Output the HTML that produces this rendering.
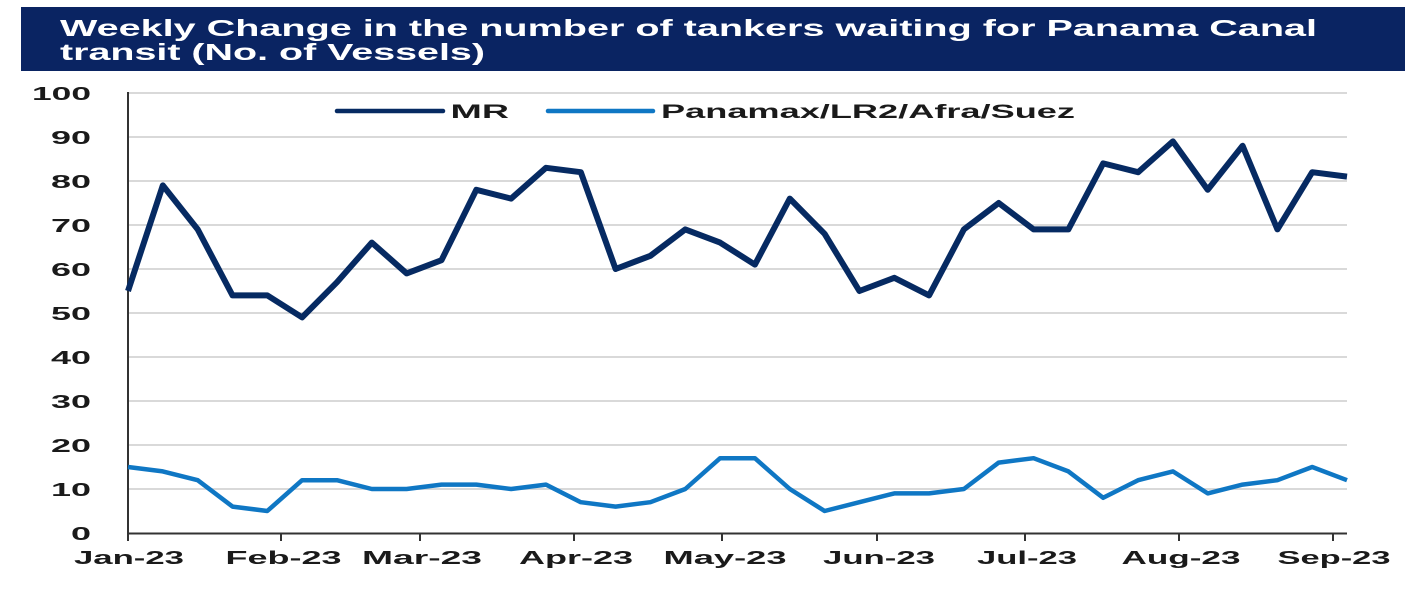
<!DOCTYPE html>
<html>
<head>
<meta charset="utf-8">
<style>
html,body{margin:0;padding:0;background:#fff;}
svg{display:block;}
text{font-family:"Liberation Sans",Arial,sans-serif;font-weight:bold;}
</style>
</head>
<body>
<svg width="1420" height="600" viewBox="0 0 1420 600" xmlns="http://www.w3.org/2000/svg">
  <rect x="0" y="0" width="1420" height="600" fill="#ffffff"/>
  <!-- Title banner -->
  <rect x="21" y="7" width="1384" height="64" fill="#0a2462"/>
  <text x="60" y="36" font-size="23" fill="#ffffff" textLength="1257" lengthAdjust="spacingAndGlyphs">Weekly Change in the number of tankers waiting for Panama Canal</text>
  <text x="60" y="60" font-size="23" fill="#ffffff" textLength="425" lengthAdjust="spacingAndGlyphs">transit (No. of Vessels)</text>

  <!-- gridlines -->
  <g stroke="#d9d9d9" stroke-width="2">
    <line x1="128" y1="93" x2="1347" y2="93"/>
    <line x1="128" y1="137" x2="1347" y2="137"/>
    <line x1="128" y1="181" x2="1347" y2="181"/>
    <line x1="128" y1="225" x2="1347" y2="225"/>
    <line x1="128" y1="269" x2="1347" y2="269"/>
    <line x1="128" y1="313" x2="1347" y2="313"/>
    <line x1="128" y1="357" x2="1347" y2="357"/>
    <line x1="128" y1="401" x2="1347" y2="401"/>
    <line x1="128" y1="445" x2="1347" y2="445"/>
    <line x1="128" y1="489" x2="1347" y2="489"/>
  </g>

  <!-- axes -->
  <line x1="128" y1="92" x2="128" y2="534" stroke="#333333" stroke-width="2"/>
  <line x1="127" y1="533.5" x2="1347" y2="533.5" stroke="#333333" stroke-width="2"/>
  <g stroke="#333333" stroke-width="2">
    <line x1="128" y1="533" x2="128" y2="541"/>
    <line x1="281" y1="533" x2="281" y2="541"/>
    <line x1="420" y1="533" x2="420" y2="541"/>
    <line x1="574" y1="533" x2="574" y2="541"/>
    <line x1="722" y1="533" x2="722" y2="541"/>
    <line x1="877" y1="533" x2="877" y2="541"/>
    <line x1="1025" y1="533" x2="1025" y2="541"/>
    <line x1="1179" y1="533" x2="1179" y2="541"/>
    <line x1="1333" y1="533" x2="1333" y2="541"/>
  </g>

  <!-- y labels -->
  <g font-size="18" fill="#1a1a1a" text-anchor="end">
    <text x="91" y="100" textLength="59" lengthAdjust="spacingAndGlyphs">100</text>
    <text x="91" y="144" textLength="40" lengthAdjust="spacingAndGlyphs">90</text>
    <text x="91" y="188" textLength="40" lengthAdjust="spacingAndGlyphs">80</text>
    <text x="91" y="232" textLength="40" lengthAdjust="spacingAndGlyphs">70</text>
    <text x="91" y="276" textLength="40" lengthAdjust="spacingAndGlyphs">60</text>
    <text x="91" y="320" textLength="40" lengthAdjust="spacingAndGlyphs">50</text>
    <text x="91" y="364" textLength="40" lengthAdjust="spacingAndGlyphs">40</text>
    <text x="91" y="408" textLength="40" lengthAdjust="spacingAndGlyphs">30</text>
    <text x="91" y="452" textLength="40" lengthAdjust="spacingAndGlyphs">20</text>
    <text x="91" y="496" textLength="40" lengthAdjust="spacingAndGlyphs">10</text>
    <text x="91" y="540" textLength="20" lengthAdjust="spacingAndGlyphs">0</text>
  </g>

  <!-- x labels -->
  <g font-size="18" fill="#1a1a1a" text-anchor="middle">
    <text x="129" y="564" textLength="110" lengthAdjust="spacingAndGlyphs">Jan-23</text>
    <text x="283.5" y="564" textLength="116" lengthAdjust="spacingAndGlyphs">Feb-23</text>
    <text x="422" y="564" textLength="120" lengthAdjust="spacingAndGlyphs">Mar-23</text>
    <text x="576" y="564" textLength="114" lengthAdjust="spacingAndGlyphs">Apr-23</text>
    <text x="725" y="564" textLength="123" lengthAdjust="spacingAndGlyphs">May-23</text>
    <text x="879" y="564" textLength="112" lengthAdjust="spacingAndGlyphs">Jun-23</text>
    <text x="1027" y="564" textLength="100" lengthAdjust="spacingAndGlyphs">Jul-23</text>
    <text x="1181" y="564" textLength="119" lengthAdjust="spacingAndGlyphs">Aug-23</text>
    <text x="1334" y="564" textLength="113" lengthAdjust="spacingAndGlyphs">Sep-23</text>
  </g>

  <!-- legend -->
  <line x1="337" y1="111" x2="443" y2="111" stroke="#062a62" stroke-width="4.5" stroke-linecap="round"/>
  <text x="450.5" y="118" font-size="19" fill="#1a1a1a" textLength="58.5" lengthAdjust="spacingAndGlyphs">MR</text>
  <line x1="548" y1="111" x2="653" y2="111" stroke="#0f77c4" stroke-width="4.5" stroke-linecap="round"/>
  <text x="661" y="118" font-size="19" fill="#1a1a1a" textLength="414" lengthAdjust="spacingAndGlyphs">Panamax/LR2/Afra/Suez</text>

  <!-- Panamax series -->
  <polyline fill="none" stroke="#0f77c4" stroke-width="4.5" stroke-linejoin="round" stroke-linecap="butt"
    points="128.0,467.0 162.8,471.4 197.7,480.2 232.5,506.6 267.3,511.0 302.1,480.2 337.0,480.2 371.8,489.0 406.6,489.0 441.5,484.6 476.3,484.6 511.1,489.0 546.0,484.6 580.8,502.2 615.6,506.6 650.4,502.2 685.3,489.0 720.1,458.2 754.9,458.2 789.8,489.0 824.6,511.0 859.4,502.2 894.3,493.4 929.1,493.4 963.9,489.0 998.7,462.6 1033.6,458.2 1068.4,471.4 1103.2,497.8 1138.1,480.2 1172.9,471.4 1207.7,493.4 1242.6,484.6 1277.4,480.2 1312.2,467.0 1347.0,480.2"/>

  <!-- MR series -->
  <polyline fill="none" stroke="#062a62" stroke-width="6" stroke-linejoin="round" stroke-linecap="butt"
    points="128.0,291.0 162.8,185.4 197.7,229.4 232.5,295.4 267.3,295.4 302.1,317.4 337.0,282.2 371.8,242.6 406.6,273.4 441.5,260.2 476.3,189.8 511.1,198.6 546.0,167.8 580.8,172.2 615.6,269.0 650.4,255.8 685.3,229.4 720.1,242.6 754.9,264.6 789.8,198.6 824.6,233.8 859.4,291.0 894.3,277.8 929.1,295.4 963.9,229.4 998.7,203.0 1033.6,229.4 1068.4,229.4 1103.2,163.4 1138.1,172.2 1172.9,141.4 1207.7,189.8 1242.6,145.8 1277.4,229.4 1312.2,172.2 1347.0,176.6"/>
</svg>
</body>
</html>
